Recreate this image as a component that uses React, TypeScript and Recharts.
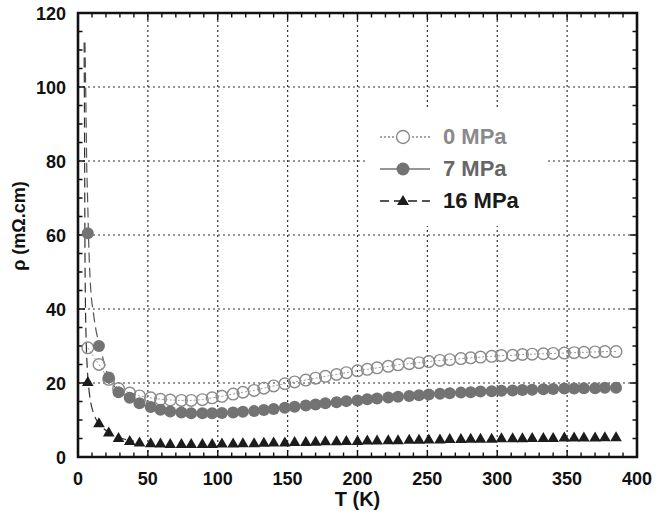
import { ComposedChart, Line, XAxis, YAxis, ReferenceLine, ReferenceArea, Legend } from 'recharts'

const FONT = '"Liberation Sans", Arial, Helvetica, sans-serif'

// temperature (K) of each measured point
const T = [
  7, 15, 22, 29, 37, 44, 52, 59, 66, 74,
  81, 89, 96, 103, 111, 118, 126, 133, 140, 148,
  155, 163, 170, 177, 185, 192, 200, 207, 214, 222,
  229, 237, 244, 251, 259, 266, 274, 281, 288, 296,
  303, 311, 318, 325, 333, 340, 348, 355, 362, 370,
  377, 385,
]

// resistivity (mOhm.cm) for each pressure
const rho0 = [
  29.5, 25, 21, 18.5, 17.3, 16.5, 16, 15.6, 15.4, 15.3,
  15.3, 15.5, 16, 16.4, 17, 17.5, 18, 18.6, 19.2, 19.8,
  20.3, 20.8, 21.3, 21.8, 22.3, 22.8, 23.3, 23.7, 24.1, 24.5,
  24.9, 25.2, 25.5, 25.8, 26.1, 26.3, 26.6, 26.8, 27, 27.2,
  27.4, 27.5, 27.7, 27.8, 27.9, 28, 28.1, 28.2, 28.3, 28.4,
  28.5, 28.5,
]
const rho7 = [
  60.5, 30, 21.5, 17.5, 16, 14.5, 13.5, 12.8, 12.3, 12,
  11.8, 11.8, 11.8, 11.9, 12, 12.2, 12.4, 12.7, 13, 13.3,
  13.6, 13.9, 14.2, 14.5, 14.8, 15.1, 15.3, 15.6, 15.8, 16.1,
  16.3, 16.5, 16.7, 16.9, 17.1, 17.2, 17.4, 17.5, 17.7, 17.8,
  17.9, 18, 18.1, 18.2, 18.3, 18.4, 18.5, 18.5, 18.6, 18.6,
  18.7, 18.7,
]
const rho16 = [
  20.3, 9.2, 6.7, 5.2, 4.4, 4.0, 3.8, 3.7, 3.6, 3.6,
  3.6, 3.6, 3.6, 3.7, 3.7, 3.8, 3.8, 3.9, 4.0, 4.0,
  4.1, 4.1, 4.2, 4.3, 4.3, 4.4, 4.4, 4.5, 4.5, 4.6,
  4.6, 4.7, 4.7, 4.8, 4.8, 4.9, 4.9, 5.0, 5.0, 5.0,
  5.1, 5.1, 5.1, 5.2, 5.2, 5.2, 5.3, 5.3, 5.3, 5.3,
  5.4, 5.4,
]

// low temperature fit curves (dashed)
const fit7T = [5, 5.5, 6.2, 7, 7.5, 9, 11, 13, 15.7, 19, 22, 30, 40]
const fit7V = [112, 100, 80, 68, 60, 46, 39, 34, 30, 25, 21.5, 17.8, 15.2]
const fit16T = [4.4, 4.6, 4.8, 5, 5.3, 5.8, 6.5, 7.4, 9, 11, 14, 18, 22, 30, 40]
const fit16V = [112, 95, 75, 55, 42, 32, 25, 20, 15, 12, 9.5, 7.8, 6.7, 5.2, 4.3]

// inner tick marks (minor every 10 K / 5 units)
const xTicks = Array.from({ length: 39 }, (_, i) => (i + 1) * 10)
const yTicks = Array.from({ length: 23 }, (_, i) => (i + 1) * 5)
const xLabels = [0, 50, 100, 150, 200, 250, 300, 350, 400]
const yLabels = [0, 20, 40, 60, 80, 100, 120]
const xGrid = [50, 100, 150, 200, 250, 300, 350]
const yGrid = [20, 40, 60, 80, 100]

const data = T.map((t, i) => ({ T: t, p0: rho0[i], p7: rho7[i], p16: rho16[i] }))
const fit7 = fit7T.map((t, i) => ({ T: t, f: fit7V[i] }))
const fit16 = fit16T.map((t, i) => ({ T: t, f: fit16V[i] }))

const C0 = '#8a8a8a'
const C7 = '#737373'
const C16 = '#1c1c1c'

const openDot = (p: any) => (
  <circle key={`o${p.index}`} cx={p.cx} cy={p.cy} r={5.8} fill="none" stroke={C0} strokeWidth={1.4} />
)
const fullDot = (p: any) => (
  <circle key={`f${p.index}`} cx={p.cx} cy={p.cy} r={6} fill={C7} stroke="none" />
)
const triDot = (p: any) => (
  <polygon
    key={`t${p.index}`}
    points={`${p.cx},${p.cy - 5.8} ${p.cx - 5.8},${p.cy + 4.2} ${p.cx + 5.8},${p.cy + 4.2}`}
    fill={C16}
  />
)

const BottomTick = ({ x, y, payload }: any) => (
  <text x={x} y={y + 28} textAnchor="middle" fontFamily={FONT} fontWeight="bold" fontSize={18} fill="#111">
    {payload.value}
  </text>
)
const LeftTick = ({ x, y, payload }: any) => (
  <text x={x - 12} y={y + 6.5} textAnchor="end" fontFamily={FONT} fontWeight="bold" fontSize={18} fill="#111">
    {payload.value}
  </text>
)

// inward tick marks on the bottom and top edges, drawn from the x axis box
const XTitle = ({ viewBox }: any) => {
  const { x, y, width } = viewBox
  const top = 13
  const d = xTicks
    .map((v) => {
      const px = x + (v / 400) * width
      const len = v % 50 === 0 ? 7 : 4.5
      return `M${px},${y} v${-len} M${px},${top} v${len}`
    })
    .join(' ')
  return (
    <g>
      <path d={d} stroke="#111" strokeWidth={1.4} fill="none" />
      <text x={x + width / 2} y={506} textAnchor="middle" fontFamily={FONT} fontWeight="bold" fontSize={20} fill="#111">
        T (K)
      </text>
    </g>
  )
}

// inward tick marks on the left and right edges, drawn from the y axis box
const YTitle = ({ viewBox }: any) => {
  const { y, width, height } = viewBox
  const left = width
  const right = 637
  const d = yTicks
    .map((v) => {
      const py = y + height - (v / 120) * height
      const len = v % 20 === 0 ? 7 : 4.5
      return `M${left},${py} h${len} M${right},${py} h${-len}`
    })
    .join(' ')
  return (
    <g>
      <path d={d} stroke="#111" strokeWidth={1.4} fill="none" />
      <text
        x={25}
        y={226}
        transform="rotate(-90 25 226)"
        textAnchor="middle"
        fontFamily={FONT}
        fontWeight="bold"
        fontSize={18}
        fill="#111"
      >
        ρ (mΩ.cm)
      </text>
    </g>
  )
}

const LEGEND = [
  { name: '0 MPa', color: C0, line: C0, dash: '2 2', mark: 'open' },
  { name: '7 MPa', color: '#666', line: C7, dash: undefined, mark: 'full' },
  { name: '16 MPa', color: '#1a1a1a', line: C16, dash: '9 5', mark: 'tri' },
]

function LegendBox() {
  return (
    <div style={{ width: 178, height: 116, background: '#fff', position: 'relative' }}>
      {LEGEND.map((s, i) => (
        <div
          key={s.name}
          style={{ position: 'absolute', left: 0, top: 12 + i * 32, height: 30, display: 'flex', alignItems: 'center' }}
        >
          <svg width={75} height={30}>
            <line x1={12} x2={62} y1={15} y2={15} stroke={s.line} strokeWidth={1.3} strokeDasharray={s.dash} />
            {s.mark === 'open' && <circle cx={35} cy={15} r={6.5} fill="#fff" stroke={C0} strokeWidth={1.4} />}
            {s.mark === 'full' && <circle cx={35} cy={15} r={6.5} fill={C7} />}
            {s.mark === 'tri' && <polygon points="35,9 29,19 41,19" fill={C16} />}
          </svg>
          <span style={{ color: s.color, fontFamily: FONT, fontWeight: 'bold', fontSize: 22 }}>{s.name}</span>
        </div>
      ))}
    </div>
  )
}

export default function App() {
  return (
    <div style={{ position: 'absolute', left: 0, top: 0, background: '#fff' }}>
      <ComposedChart width={661} height={516} data={data} margin={{ top: 13, right: 24, bottom: 0, left: 0 }}>
        {xGrid.map((v) => (
          <ReferenceLine key={`gx${v}`} x={v} stroke="#333" strokeWidth={1.2} strokeDasharray="2 3" />
        ))}
        {yGrid.map((v) => (
          <ReferenceLine key={`gy${v}`} y={v} stroke="#333" strokeWidth={1.2} strokeDasharray="2 3" />
        ))}
        <XAxis
          dataKey="T"
          type="number"
          domain={[0, 400]}
          ticks={xLabels}
          interval={0}
          height={59}
          tickSize={0}
          tickMargin={0}
          tickLine={false}
          axisLine={false}
          tick={<BottomTick />}
          label={{ content: <XTitle /> }}
        />
        <YAxis
          type="number"
          domain={[0, 120]}
          ticks={yLabels}
          interval={0}
          width={78}
          tickSize={0}
          tickMargin={0}
          tickLine={false}
          axisLine={false}
          tick={<LeftTick />}
          label={{ content: <YTitle /> }}
        />
        <ReferenceArea x1={0} x2={400} y1={0} y2={120} fill="none" fillOpacity={0} stroke="#111" strokeWidth={2.6} />
        <Line data={fit7} dataKey="f" type="monotone" stroke="#555" strokeWidth={1.2} strokeDasharray="10 5" dot={false} isAnimationActive={false} />
        <Line data={fit16} dataKey="f" type="monotone" stroke="#333" strokeWidth={1.2} strokeDasharray="10 5" dot={false} isAnimationActive={false} />
        <Line dataKey="p0" stroke="#9a9a9a" strokeWidth={1} strokeDasharray="2 2" dot={openDot} isAnimationActive={false} />
        <Line dataKey="p7" stroke="none" dot={fullDot} isAnimationActive={false} />
        <Line dataKey="p16" stroke="none" dot={triDot} isAnimationActive={false} />
        <Legend
          layout="vertical"
          align="center"
          verticalAlign="middle"
          content={<LegendBox />}
          wrapperStyle={{ left: 368, top: 110, width: 178, height: 116 }}
        />
      </ComposedChart>
    </div>
  )
}
